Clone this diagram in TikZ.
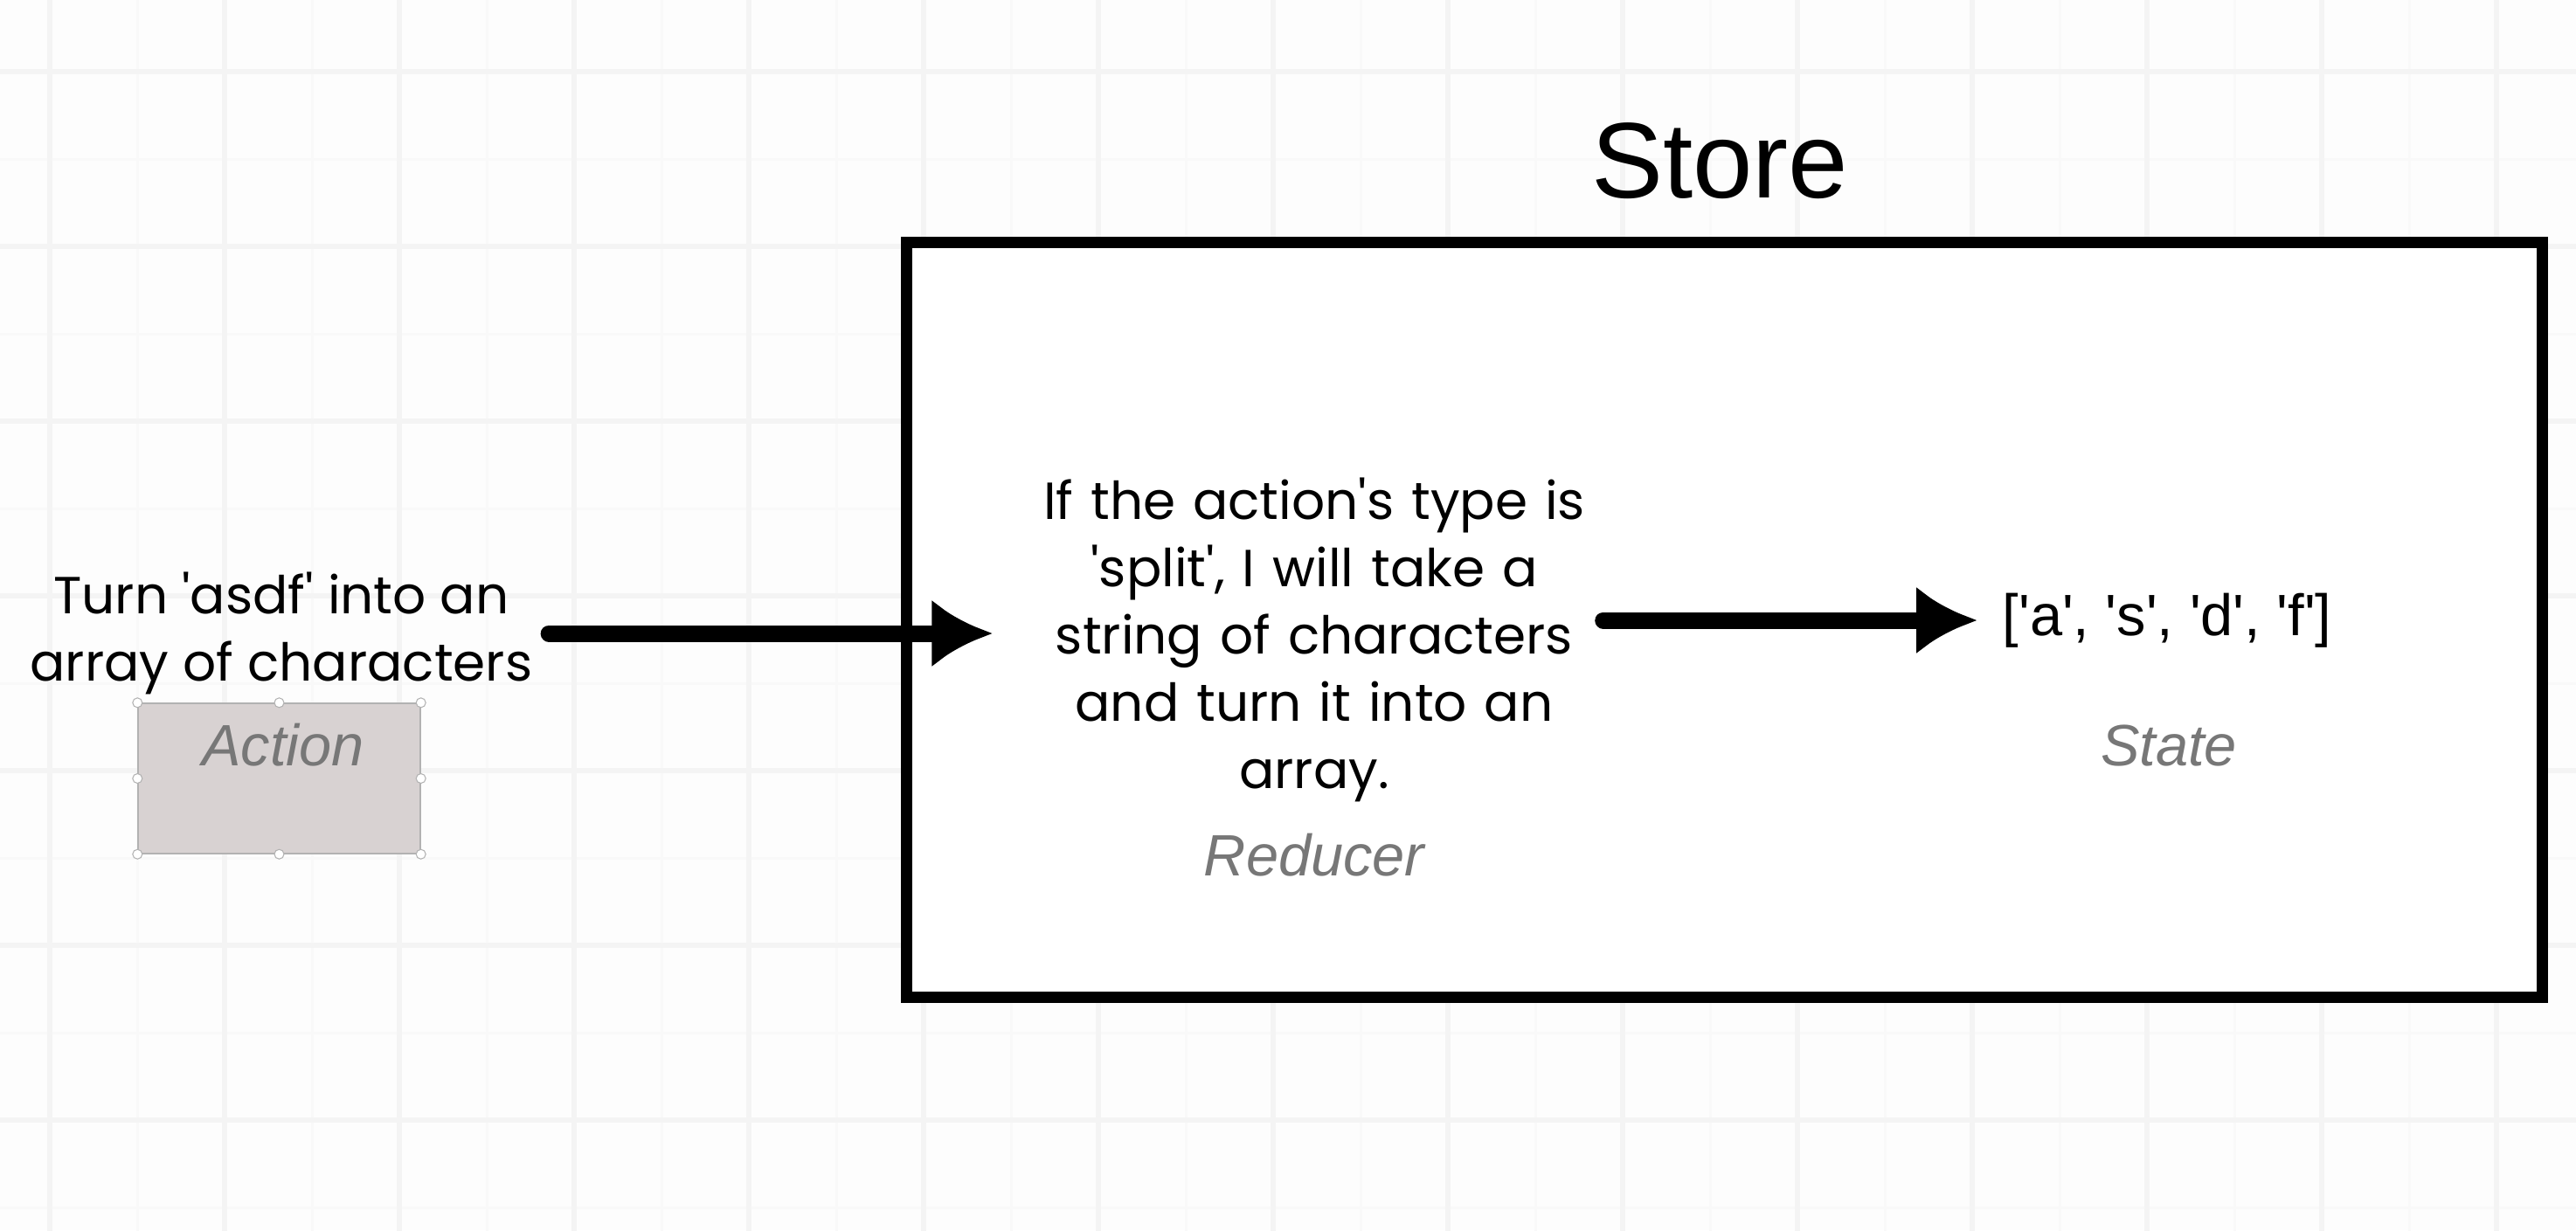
\documentclass[tikz,border=0pt]{standalone}
\usepackage{fontspec}
\setmainfont{Poppins}
\newfontfamily\labelfont{Liberation Sans}
\usetikzlibrary{arrows.meta,positioning}
\definecolor{paper}{HTML}{FDFDFD}
\definecolor{gridmajor}{HTML}{F4F4F4}
\definecolor{gridminor}{HTML}{F9F9F9}
\definecolor{actionfill}{HTML}{D8D2D2}
\definecolor{labelgray}{HTML}{777777}
\newcommand{\sq}{\textquotesingle}
\tikzset{
  note/.style={align=center, inner sep=0pt, font=\fontsize{17}{21.9}\selectfont},
  tag/.style={text=labelgray, inner sep=0pt, font=\labelfont\itshape\fontsize{19}{23}\selectfont},
  flow/.style={-{Latex[length=7mm,width=7.8mm]}, line width=1.9mm, line cap=round},
  handle/.style={circle, draw=gray!60, fill=white, inner sep=0pt, minimum size=1.1mm, line width=0.3pt},
}
\begin{document}
\begin{tikzpicture}
    \useasboundingbox (0,0) rectangle (29.48,-14.08);
    \fill[paper] (0,0) rectangle (29.48,-14.08);
    \begin{scope}
        \clip (0,0) rectangle (29.48,-14.08);
        \draw[gridminor, line width=0.3mm, shift={(0.57,-0.82)}] (-1,-15) grid (29,1);
        \draw[gridmajor, line width=0.6mm, shift={(0.57,-0.82)}, step=2] (-2,-16) grid (30,2);
    \end{scope}

    \node[draw, line width=1.3mm, fill=white, minimum width=18.72cm, minimum height=8.64cm, inner sep=0pt] (store) at (19.73,-7.09) {};
    \node[font=\labelfont\fontsize{35}{40}\selectfont, anchor=base] (title) at (19.68,-2.26) {Store};

    \node[note] (ask) at (3.22,-7.25) {Turn \sq asdf\sq{} into an\\array of characters};
    \node[draw=gray!60, fill=actionfill, minimum width=3.23cm, minimum height=1.72cm, inner sep=0pt] (action) at (3.195,-8.91) {};
    \foreach \a in {north west,north,north east,east,south east,south,south west,west}
        \node[handle] at (action.\a) {};
    \node[tag] (actionlbl) at (3.24,-8.53) {Action};

    \node[note, text width=6.9cm, inner xsep=2.2mm] (reducer) at (15.04,-7.32)
        {If the action\sq s type is\\\sq split\sq, I will take a\\string of characters\\and turn it into an\\array.};
    \node[tag] (reducerlbl) at (15.04,-9.79) {Reducer};

    \node[font=\labelfont\fontsize{19}{23}\selectfont, inner xsep=2.8mm] (state) at (24.8,-7.10)
        {[\sq a\sq, \sq s\sq, \sq d\sq, \sq f\sq]};
    \node[tag] (statelbl) at (24.82,-8.53) {State};

    \draw[flow] ([xshift=1.8mm]ask.east) -- (ask.east -| reducer.west);
    \draw[flow, shorten <=-3.7mm] (reducer.east |- state.west) -- (state.west);
\end{tikzpicture}
\end{document}
